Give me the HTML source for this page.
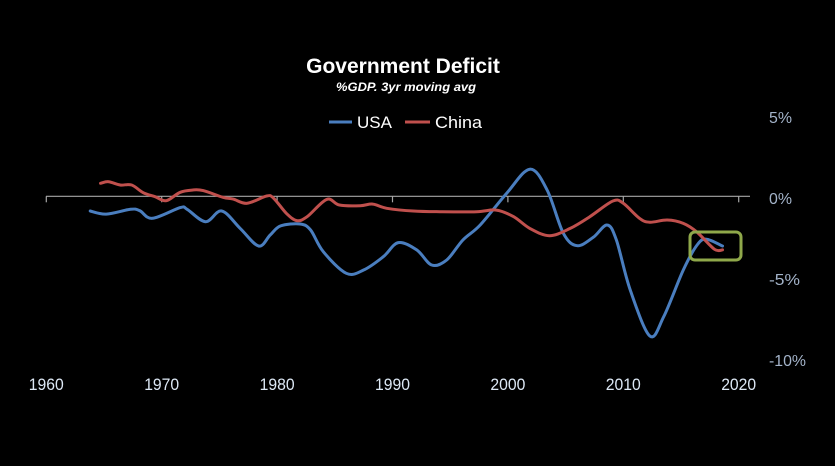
<!DOCTYPE html>
<html><head><meta charset="utf-8"><style>
html,body{margin:0;padding:0;background:#000;}
svg{display:block;font-family:"Liberation Sans Narrow","Liberation Sans",sans-serif;}
</style></head><body>
<svg id="chart" width="835" height="466">
<rect x="0" y="0" width="835" height="466" fill="#000"/>
<text x="403" y="73" text-anchor="middle" fill="#fff" font-size="21" font-weight="bold">Government Deficit</text>
<text x="406" y="91" text-anchor="middle" fill="#fff" font-size="12" font-weight="bold" font-style="italic" textLength="140" lengthAdjust="spacingAndGlyphs">%GDP. 3yr moving avg</text>
<g>
<g><line x1="329" y1="122" x2="352" y2="122" stroke="#4a7ebf" stroke-width="3"/><text x="357" y="128" fill="#fff" font-size="17">USA</text></g>
<g><line x1="405" y1="122" x2="430" y2="122" stroke="#c0504d" stroke-width="3"/><text x="435" y="128" fill="#fff" font-size="17" textLength="47" lengthAdjust="spacingAndGlyphs">China</text></g>
</g>
<g id="axes"></g>
<g id="series"></g>
<rect x="690" y="232" width="51" height="28" rx="5" fill="none" stroke="#8fa84a" stroke-width="3"/>
</svg>
<script>
const xTicks=[1960,1970,1980,1990,2000,2010,2020];
const yTicks=[5,0,-5,-10];
const yTickLabels=["5%","0%","-5%","-10%"];
const usaYears=[1963.8,1965.2,1967.3,1968.1,1969.2,1971.6,1972.2,1973.8,1975.2,1976.8,1978.4,1979.4,1980.3,1982.0,1982.9,1984.0,1986.0,1987.5,1989.2,1990.5,1992.1,1993.4,1994.7,1996.1,1997.6,1999.9,2001.9,2003.4,2004.8,2006.0,2007.4,2008.6,2009.4,2010.6,2012.3,2013.5,2015.2,2016.4,2017.2,2018.6];
const usaValues=[-0.91,-1.1,-0.8,-0.89,-1.36,-0.7,-0.8,-1.57,-0.91,-1.98,-3.07,-2.39,-1.83,-1.71,-2.08,-3.42,-4.75,-4.55,-3.73,-2.86,-3.31,-4.24,-3.93,-2.7,-1.77,0.19,1.67,0.39,-2.28,-3.05,-2.53,-1.77,-2.7,-5.78,-8.62,-7.43,-4.55,-3.0,-2.65,-3.07];
const chinaYears=[1964.7,1965.4,1966.4,1967.4,1968.4,1969.4,1970.4,1971.6,1972.7,1973.6,1975.3,1976.2,1977.4,1979.1,1979.7,1980.8,1981.7,1982.6,1984.3,1985.4,1987.2,1988.3,1989.5,1991.8,1994.1,1997.3,1999.0,2000.5,2001.9,2003.6,2005.4,2007.1,2009.1,2010.0,2011.4,2012.3,2013.8,2015.2,2016.4,2017.9,2018.6];
const chinaValues=[0.8,0.9,0.7,0.7,0.22,-0.02,-0.27,0.25,0.39,0.35,-0.06,-0.17,-0.43,0.02,-0.12,-1.05,-1.5,-1.26,-0.19,-0.54,-0.58,-0.48,-0.74,-0.91,-0.95,-0.95,-0.85,-1.26,-1.98,-2.43,-1.98,-1.26,-0.29,-0.43,-1.36,-1.6,-1.46,-1.67,-2.22,-3.27,-3.31];

const NS="http://www.w3.org/2000/svg";
function xs(y){return 46.3+(y-1960)*11.54;}
function ys(v){return 196.3-v*16.2;}
const axes=document.getElementById('axes');
const series=document.getElementById('series');
function mk(tag,attrs,parent){const e=document.createElementNS(NS,tag);for(const k in attrs)e.setAttribute(k,attrs[k]);parent.appendChild(e);return e;}

const axisLine=mk('line',{x1:46,y1:ys(0),x2:750,y2:ys(0),stroke:'#a6a6a6','stroke-width':1.2},axes);


xTicks.forEach(t=>{
  const tk=mk('line',{x1:xs(t),y1:ys(0),x2:xs(t),y2:ys(0)+6,stroke:'#a6a6a6','stroke-width':1.2},axes);
  
  
  const lb=mk('text',{x:xs(t),y:390,'text-anchor':'middle',fill:'#dde8f5','font-size':17,textLength:35,lengthAdjust:'spacingAndGlyphs'},axes);
  lb.textContent=t;
  
  
});
const yLabelLen={2:23,3:31,4:37};
yTicks.forEach((v,i)=>{
  const s=yTickLabels[i];
  const lb=mk('text',{x:769,y:ys(v)+7.5,'text-anchor':'start',fill:'#a3b3c9','font-size':16,textLength:yLabelLen[s.length],lengthAdjust:'spacingAndGlyphs'},axes);
  lb.textContent=s;
  
  
});
function smooth(xa,va){
  const p=xa.map((x,i)=>[xs(x),ys(va[i])]);
  let d='M'+p[0][0].toFixed(1)+','+p[0][1].toFixed(1);
  for(let i=0;i<p.length-1;i++){
    const p0=p[i-1]||p[i],p1=p[i],p2=p[i+1],p3=p[i+2]||p2;
    const c1=[p1[0]+(p2[0]-p0[0])/6,p1[1]+(p2[1]-p0[1])/6];
    const c2=[p2[0]-(p3[0]-p1[0])/6,p2[1]-(p3[1]-p1[1])/6];
    d+='C'+c1.map(n=>n.toFixed(1))+' '+c2.map(n=>n.toFixed(1))+' '+p2.map(n=>n.toFixed(1));
  }
  return d;
}
const usa=mk('path',{d:smooth(usaYears,usaValues),fill:'none',stroke:'#4a7ebf','stroke-width':3,'stroke-linejoin':'round','stroke-linecap':'round'},series);


const china=mk('path',{d:smooth(chinaYears,chinaValues),fill:'none',stroke:'#c0504d','stroke-width':3,'stroke-linejoin':'round','stroke-linecap':'round'},series);


</script>
</body></html>
